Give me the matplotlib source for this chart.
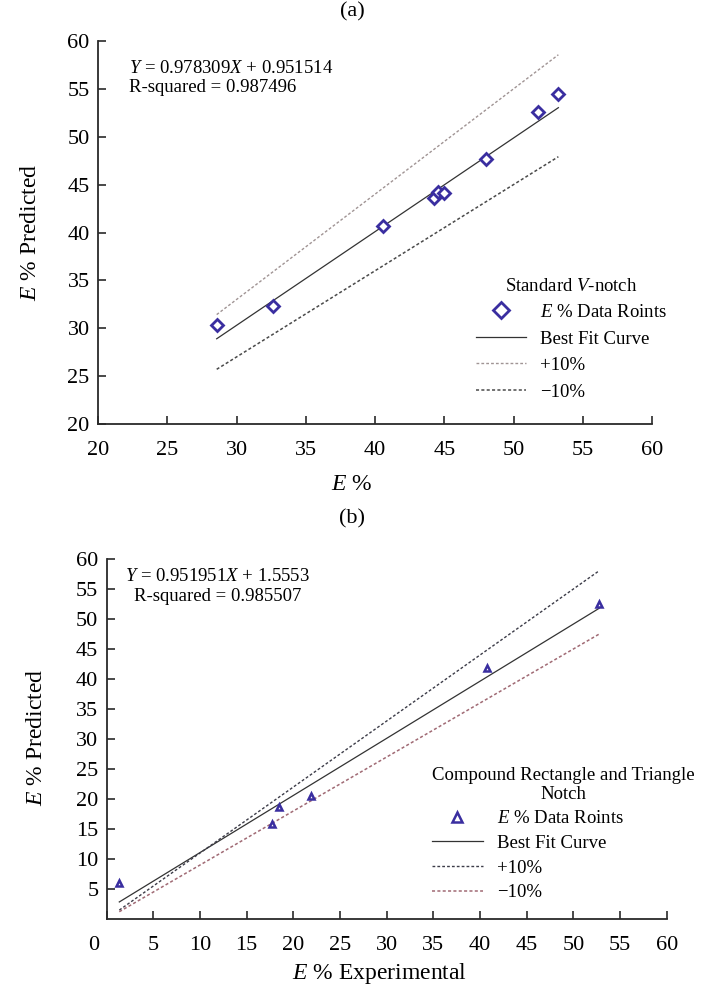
import numpy as np
import matplotlib
matplotlib.use('agg')
import matplotlib.pyplot as plt
from matplotlib.transforms import ScaledTranslation

plt.rcParams['font.family'] = ['Liberation Serif', 'DejaVu Serif']
plt.rcParams['mathtext.fontset'] = 'custom'
plt.rcParams['mathtext.rm'] = 'Liberation Serif'
plt.rcParams['mathtext.it'] = 'Liberation Serif:italic'

# panel (a) standard V-notch
exp_a = [28.57, 32.66, 40.60, 44.28, 44.53, 44.98, 47.99, 51.75, 53.24]
pred_a = [30.34, 32.36, 40.68, 43.57, 44.26, 44.16, 47.65, 52.62, 54.50]
slope_a, icpt_a = 0.978309, 0.951514
r2_a = 0.987496

# panel (b) compound rectangle and triangle notch
exp_b = [1.35, 17.68, 18.47, 21.90, 40.76, 52.77]
pred_b = [5.95, 15.83, 18.72, 20.50, 41.80, 52.50]
slope_b, icpt_b = 0.951951, 1.5553
r2_b = 0.985507

mcol = '#3a2ea0'
fs = 16
lbl_fs = 17
leg_fs = 13.5

fig = plt.figure(figsize=(7.02, 9.86), dpi=100)
ax1 = fig.add_axes([98/702, 1-424/986, 554/702, 383/986])
ax2 = fig.add_axes([106.7/702, 1-919/986, 560/702, 360/986])


def style_ax(ax):
    for s in ['top', 'right']:
        ax.spines[s].set_visible(False)
    for s in ['left', 'bottom']:
        ax.spines[s].set_color('#2a2a2a')
        ax.spines[s].set_linewidth(1.3)
    ax.tick_params(which='major', axis='both', direction='in', length=6, width=1.2,
                   color='#2a2a2a', labelsize=fs)
    ax.tick_params(axis='x', pad=12)
    ax.tick_params(axis='y', pad=6)


# (a)
xs = np.array([min(exp_a), max(exp_a)])
ax1.plot(exp_a, pred_a, linestyle='none', marker='D', markersize=6, mew=2.0,
         mfc='white', mec=mcol, label='$E$ % Data Roints', zorder=3)
ax1.plot(xs, slope_a*xs + icpt_a, color='#333333', lw=0.9, label='Best Fit Curve')
ax1.plot(xs, 1.1*xs, color='#a09494', lw=1.0, ls=(0, (2, 1.5)), label='+10%')
ax1.plot(xs, 0.9*xs, color='#4a4a4a', lw=1.1, ls=(0, (2, 1.5)), label='\u221210%')
ax1.set_xlim(20, 60)
ax1.set_ylim(20, 60)
ax1.set_xticks(np.arange(20, 61, 5))
ax1.set_yticks(np.arange(20, 61, 5))
style_ax(ax1)
ax1.text(0.056, 0.95, '$Y$ = %.6f$X$ + %.6f\nR-squared = %.6f' % (slope_a, icpt_a, r2_a),
         transform=ax1.transAxes, fontsize=13.5, va='top', ha='left', linespacing=1.15)
leg1 = ax1.legend(loc='upper left', bbox_to_anchor=(0.668, 0.402), frameon=False,
                  borderaxespad=0, fontsize=leg_fs, title='Standard $V$-notch',
                  title_fontsize=leg_fs, handlelength=2.7, handletextpad=0.75,
                  labelspacing=0.5, markerscale=1.4)

# (b)
xs = np.array([min(exp_b), max(exp_b)])
ax2.plot(exp_b, pred_b, linestyle='none', marker='^', markersize=5, mew=1.8,
         mfc='white', mec=mcol, label='$E$ % Data Roints', zorder=3)
ax2.plot(xs, slope_b*xs + icpt_b, color='#333333', lw=0.9, label='Best Fit Curve')
ax2.plot(xs, 1.1*xs, color='#3c3c48', lw=1.0, ls=(0, (2, 1.5)), label='+10%')
ax2.plot(xs, 0.9*xs, color='#a06a74', lw=1.1, ls=(0, (2, 1.5)), label='\u221210%')
ax2.set_xlim(0, 60)
ax2.set_ylim(0, 60)
ax2.set_xticks(np.arange(0, 61, 5))
ax2.set_yticks(np.arange(5, 61, 5))
style_ax(ax2)
lbl0 = ax2.get_xticklabels()[0]
lbl0.set_transform(lbl0.get_transform() + ScaledTranslation(-0.13, 0, fig.dpi_scale_trans))
ax2.text(0.033, 0.975, '$Y$ = %.6f$X$ + %.4f\nR-squared = %.6f' % (slope_b, icpt_b, r2_b),
         transform=ax2.transAxes, fontsize=13.5, va='top', ha='left', linespacing=1.25,
         multialignment='center')
leg2 = ax2.legend(loc='upper left', bbox_to_anchor=(0.5675, 0.442), frameon=False,
                  borderaxespad=0, fontsize=leg_fs, title='Compound Rectangle and Triangle\nNotch',
                  title_fontsize=leg_fs, handlelength=2.7, handletextpad=0.75,
                  labelspacing=0.4, markerscale=1.4, alignment='left')
leg2.get_title().set_multialignment('center')
leg2.get_title().set_linespacing(1.1)

# labels
fig.text(352/702, 1-12/986, '(a)', fontsize=fs, ha='center', va='center')
fig.text(352/702, 1-519/986, '(b)', fontsize=fs, ha='center', va='center')
fig.text(352/702, 1-484/986, '$E$ %', fontsize=lbl_fs, ha='center', va='center')
fig.text(380/702, 1-973/986, '$E$ % Experimental', fontsize=lbl_fs, ha='center', va='center')
fig.text(30/702, 1-232/986, '$E$ % Predicted', fontsize=lbl_fs, ha='center', va='center',
         rotation=90)
fig.text(37/702, 1-737/986, '$E$ % Predicted', fontsize=lbl_fs, ha='center', va='center',
         rotation=90)

fig.savefig('out.png', dpi=100)
